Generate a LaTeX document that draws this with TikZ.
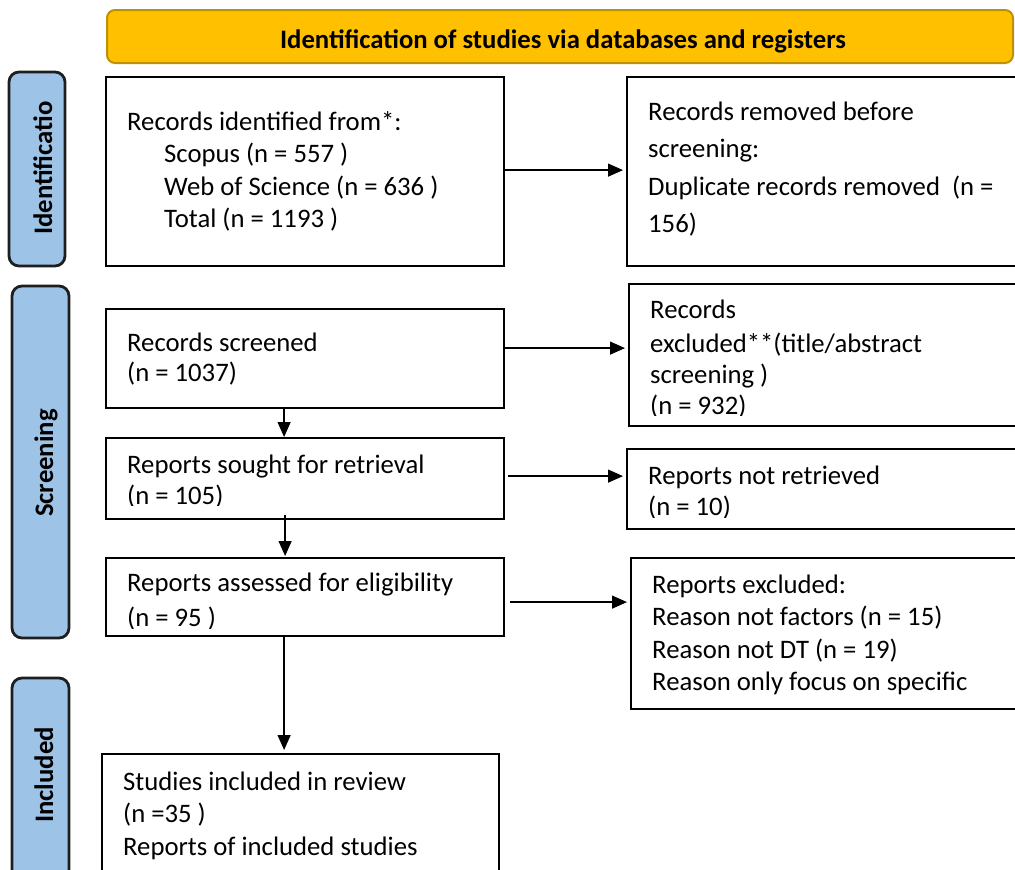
\documentclass[tikz,border=0pt]{standalone}
\usepackage{fontspec}
\setmainfont{Carlito}
\usetikzlibrary{arrows.meta}
\definecolor{bannerfill}{HTML}{FFC000}
\definecolor{bannerline}{HTML}{BF9000}
\definecolor{sidefill}{HTML}{9DC3E6}
\definecolor{sideline}{HTML}{1E1E1E}
\newcommand{\fsz}{\fontsize{26.7pt}{32pt}\selectfont}
\tikzset{
  box/.style={draw=black, line width=2.2pt, rectangle, inner sep=0pt, anchor=north west},
  sidebar/.style={draw=sideline, fill=sidefill, line width=2.8pt, rounded corners=10pt},
  banner/.style={draw=bannerline, fill=bannerfill, line width=2pt, rounded corners=8pt},
  txt/.style={anchor=base west, inner sep=0pt, font=\fsz},
  sidetxt/.style={anchor=base, inner sep=0pt, rotate=90, font=\fsz\bfseries},
  arr/.style={draw=black, line width=1.3pt, -{Triangle[length=15pt,width=13pt]}, shorten >=3pt},
}
\begin{document}
\begin{tikzpicture}[x=1pt,y=-1pt]
\useasboundingbox (0,0) rectangle (1015,870);
\clip (0,0) rectangle (1015,870);
% banner
\draw[banner] (107,10) rectangle (1013,63);
\begin{scope}
\clip (0,0) rectangle (1015,53);
\node[anchor=base, inner sep=0pt, font=\fsz\bfseries] (bantxt) at (563,48.5) {Identification of studies via databases and registers};
\end{scope}
% sidebars
\draw[sidebar] (9,72) rectangle (65,266);
\node[sidetxt] (s1) at (52,168) {Identificatio};
\draw[sidebar] (12,286) rectangle (69,638);
\node[sidetxt] (s2) at (53,463) {Screening};
\draw[sidebar] (12,678) rectangle (69,900);
\node[sidetxt] (s3) at (53,775) {Included};
% boxes
\node[box, minimum width=398pt, minimum height=189pt] (b1) at (105,76) {};
\node[box, minimum width=404pt, minimum height=189pt] (b2) at (626,76) {};
\node[box, minimum width=398pt, minimum height=99pt] (b3) at (105,308) {};
\node[box, minimum width=402pt, minimum height=142pt] (b4) at (628,283) {};
\node[box, minimum width=398pt, minimum height=81pt] (b5) at (105,437) {};
\node[box, minimum width=404pt, minimum height=80pt] (b6) at (626,448) {};
\node[box, minimum width=398pt, minimum height=78pt] (b7) at (105,557) {};
\node[box, minimum width=400pt, minimum height=151pt] (b8) at (630,557) {};
\node[box, minimum width=397pt, minimum height=140pt] (b9) at (101,753) {};
% texts
\node[txt] (t1a) at (127,130) {Records identified from*:};
\node[txt] (t1b) at (164,162.5) {Scopus (n = 557 )};
\node[txt] (t1c) at (164,195) {Web of Science (n = 636 )};
\node[txt] (t1d) at (164,227.5) {Total (n = 1193 )};
\node[txt] (t2a) at (648,120) {Records removed before};
\node[txt] (t2b) at (648,157.5) {screening:};
\node[txt] (t2c) at (648,195) {Duplicate records removed~ (n =};
\node[txt] (t2d) at (648,232) {156)};
\node[txt] (t3a) at (127,351) {Records screened};
\node[txt] (t3b) at (127,381) {(n = 1037)};
\node[txt] (t4a) at (650,318) {Records};
\node[txt] (t4b) at (650,352) {excluded**(title/abstract};
\node[txt] (t4c) at (650,383.5) {screening )};
\begin{scope}
\clip (600,390) rectangle (1015,415.5);
\node[txt] (t4d) at (650,414) {(n = 932)};
\end{scope}
\node[txt] (t5a) at (127,473.5) {Reports sought for retrieval};
\begin{scope}
\clip (110,480) rectangle (500,505.5);
\node[txt] (t5b) at (127,504.3) {(n = 105)};
\end{scope}
\node[txt] (t6a) at (648,484) {Reports not retrieved};
\begin{scope}
\clip (630,490) rectangle (1015,517);
\node[txt] (t6b) at (648,515.7) {(n = 10)};
\end{scope}
\node[txt] (t7a) at (127,591.7) {Reports assessed for eligibility};
\begin{scope}
\clip (110,600) rectangle (500,628.5);
\node[txt] (t7b) at (127,626.7) {(n = 95 )};
\end{scope}
\node[txt] (t8a) at (652,593.3) {Reports excluded:};
\node[txt] (t8b) at (652,625.5) {Reason not factors (n = 15)};
\node[txt] (t8c) at (652,658) {Reason not DT (n = 19)};
\node[txt] (t8d) at (652,690) {Reason only focus on specific};
\node[txt] (t9a) at (123,790) {Studies included in review};
\node[txt] (t9b) at (123,822.7) {(n =35 )};
\node[txt] (t9c) at (123,855) {Reports of included studies};
% horizontal arrows
\draw[arr] ([yshift=1.5pt]b1.east) -- ([yshift=1.5pt]b1.east -| b2.west);
\draw[arr] ([yshift=10.5pt]b3.east) -- ([yshift=10.5pt]b3.east -| b4.west);
\draw[arr] ([xshift=3pt,yshift=2.5pt]b5.east) -- ([yshift=2.5pt]b5.east -| b6.west);
\draw[arr] ([xshift=5pt,yshift=-5pt]b7.east) -- ([yshift=-5pt]b7.east -| b8.west);
% vertical arrows
\draw[arr, shorten >=0pt] ([xshift=-21pt]b3.south) -- ([xshift=-21pt]b3.south |- b5.north);
\draw[arr, shorten >=1pt] ([xshift=-20pt,yshift=5pt]b5.south) -- ([xshift=-20pt]b5.south |- b7.north);
\draw[arr] ([xshift=-21pt]b7.south) -- ([xshift=-21pt]b7.south |- b9.north);
\end{tikzpicture}
\end{document}
